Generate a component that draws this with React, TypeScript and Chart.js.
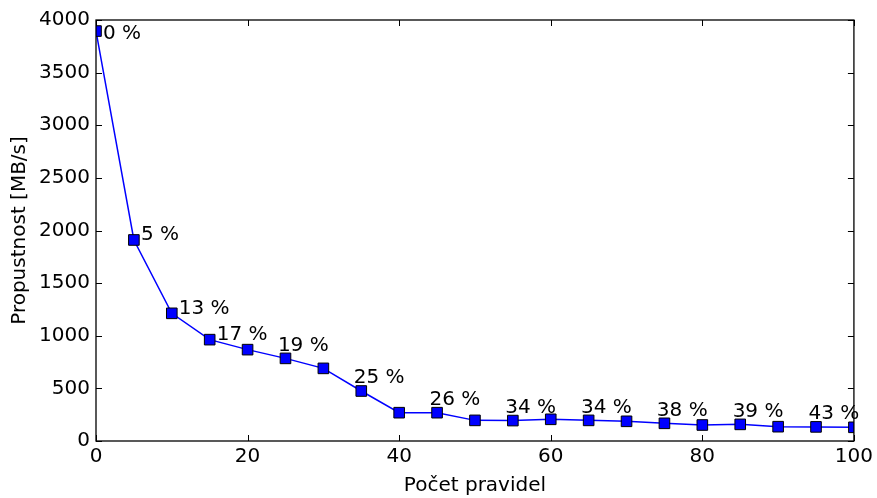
import React, { useEffect, useRef } from "react";
import { Chart, registerables } from "chart.js";

Chart.register(...registerables);

const rules: number[] = [0, 5, 10, 15, 20, 25, 30, 35, 40, 45, 50, 55, 60, 65, 70, 75, 80, 85, 90, 95, 100];
const throughput: number[] = [3895, 1910, 1213, 963, 868, 785, 690, 475, 269, 269, 196, 194, 206, 196, 187, 168, 152, 158, 136, 134, 130];
const annotIndex: number[] = [0, 1, 2, 3, 5, 7, 9, 11, 13, 15, 17, 19];
const annotText: string[] = ["0 %", "5 %", "13 %", "17 %", "19 %", "25 %", "26 %", "34 %", "34 %", "38 %", "39 %", "43 %"];
const xTicks: number[] = [0, 20, 40, 60, 80, 100];
const yTicks: number[] = [0, 500, 1000, 1500, 2000, 2500, 3000, 3500, 4000];

const FONT = "'DejaVu Sans', sans-serif";
const FS = 20;

const framePlugin = {
  id: "frame",
  afterDatasetsDraw(chart: any) {
    const { ctx, chartArea } = chart;
    const xs = chart.scales.x;
    const ys = chart.scales.y;
    const { left, right, top, bottom } = chartArea;
    ctx.save();
    ctx.strokeStyle = "#000";
    ctx.lineWidth = 1.3;
    ctx.strokeRect(left, top, right - left, bottom - top);
    const tl = 6;
    ctx.lineWidth = 1;
    ctx.beginPath();
    xTicks.forEach((v) => {
      const px = Math.round(xs.getPixelForValue(v)) + 0.5;
      ctx.moveTo(px, bottom);
      ctx.lineTo(px, bottom - tl);
      ctx.moveTo(px, top);
      ctx.lineTo(px, top + tl);
    });
    yTicks.forEach((v) => {
      const py = Math.round(ys.getPixelForValue(v)) + 0.5;
      ctx.moveTo(left, py);
      ctx.lineTo(left + tl, py);
      ctx.moveTo(right, py);
      ctx.lineTo(right - tl, py);
    });
    ctx.stroke();
    ctx.fillStyle = "#000";
    ctx.font = `${FS}px ${FONT}`;
    ctx.textAlign = "left";
    ctx.textBaseline = "middle";
    annotIndex.forEach((idx, k) => {
      const px = xs.getPixelForValue(rules[idx]);
      const py = ys.getPixelForValue(throughput[idx]);
      let tx: number;
      let ty: number;
      if (idx === 0) {
        tx = px + 7;
        ty = py + 3;
      } else if (idx <= 3) {
        tx = px + 7;
        ty = py - 5;
      } else {
        tx = px - 7.6;
        ty = py - 13;
      }
      ctx.fillText(annotText[k], tx, ty);
    });
    ctx.restore();
  },
};

export default function App() {
  const ref = useRef<HTMLCanvasElement | null>(null);
  useEffect(() => {
    document.body.style.margin = "0";
    const canvas = ref.current;
    if (!canvas) return;
    const chart = new Chart(canvas, {
      type: "line",
      data: {
        datasets: [
          {
            data: rules.map((r, i) => ({ x: r, y: throughput[i] })),
            borderColor: "#0000ff",
            borderWidth: 1.5,
            backgroundColor: "#0000ff",
            pointStyle: "rect",
            pointRadius: 7.5,
            pointBorderColor: "#000",
            pointBorderWidth: 1,
            pointBackgroundColor: "#0000ff",
            tension: 0,
            clip: 0,
          },
        ],
      },
      options: {
        animation: false,
        responsive: true,
        maintainAspectRatio: false,
        devicePixelRatio: 1,
        layout: { padding: { top: 20, right: 21, left: 0, bottom: 0 } },
        plugins: { legend: { display: false }, tooltip: { enabled: false } },
        scales: {
          x: {
            type: "linear",
            min: 0,
            max: 100,
            afterFit: (s: any) => {
              s.height = 57;
            },
            afterBuildTicks: (s: any) => {
              s.ticks = xTicks.map((v) => ({ value: v }));
            },
            grid: { display: false, drawTicks: false },
            border: { display: false },
            ticks: {
              color: "#000",
              font: { family: FONT, size: FS },
              padding: 4,
              maxRotation: 0,
              callback: (v: any) => String(v),
            },
            title: {
              display: true,
              text: "Počet pravidel",
              color: "#000",
              font: { family: FONT, size: FS },
              padding: { top: 0, bottom: 0 },
            },
          },
          y: {
            type: "linear",
            min: 0,
            max: 4000,
            afterFit: (s: any) => {
              s.width = 96;
            },
            afterBuildTicks: (s: any) => {
              s.ticks = yTicks.map((v) => ({ value: v }));
            },
            grid: { display: false, drawTicks: false },
            border: { display: false },
            ticks: {
              color: "#000",
              font: { family: FONT, size: FS },
              padding: 6,
              callback: (v: any) => String(v),
            },
            title: {
              display: true,
              text: "Propustnost [MB/s]",
              color: "#000",
              font: { family: FONT, size: FS },
              padding: { top: 8, bottom: 0 },
            },
          },
        },
      },
      plugins: [framePlugin],
    });
    return () => chart.destroy();
  }, []);
  return (
    <div style={{ position: "absolute", left: 0, top: 0, width: 877, height: 498 }}>
      <canvas ref={ref} />
    </div>
  );
}
